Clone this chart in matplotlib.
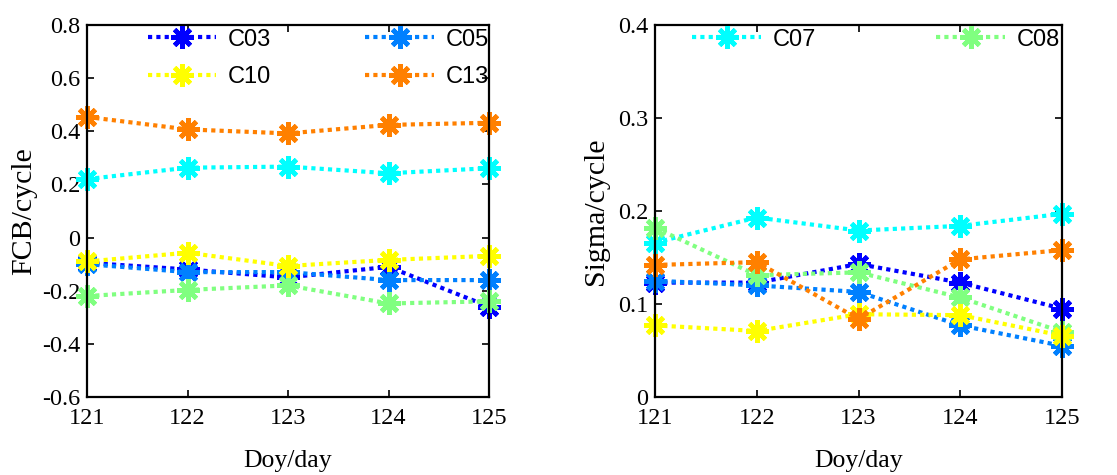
import matplotlib
matplotlib.use('Agg')
import matplotlib.pyplot as plt
import matplotlib.ticker as ticker

# 観測日
doy = [121, 122, 123, 124, 125]

# FCB (cycle)
fcb_c03 = [-0.095, -0.12, -0.15, -0.11, -0.26]
fcb_c05 = [-0.10, -0.13, -0.13, -0.16, -0.16]
fcb_c07 = [0.22, 0.263, 0.267, 0.242, 0.261]
fcb_c08 = [-0.22, -0.197, -0.18, -0.248, -0.24]
fcb_c10 = [-0.09, -0.057, -0.107, -0.084, -0.069]
fcb_c13 = [0.454, 0.407, 0.392, 0.424, 0.432]

# Sigma (cycle)
sig_c03 = [0.123, 0.123, 0.143, 0.123, 0.095]
sig_c05 = [0.125, 0.120, 0.113, 0.077, 0.055]
sig_c07 = [0.166, 0.193, 0.179, 0.184, 0.197]
sig_c08 = [0.182, 0.131, 0.134, 0.107, 0.070]
sig_c10 = [0.077, 0.071, 0.089, 0.088, 0.066]
sig_c13 = [0.142, 0.145, 0.084, 0.148, 0.158]

sats = ['C03', 'C05', 'C07', 'C08', 'C10', 'C13']
# jet(8) の先頭6色
colors = ['#0000ff', '#0080ff', '#00ffff', '#80ff80', '#ffff00', '#ff8000']

plt.rcParams['font.family'] = ['Liberation Serif', 'DejaVu Serif']
plt.rcParams['axes.unicode_minus'] = False

fig = plt.figure(figsize=(11.17, 4.75), dpi=100)
ax1 = fig.add_axes([0.0779, 0.1642, 0.3599, 0.7832])
ax2 = fig.add_axes([0.5864, 0.1642, 0.3644, 0.7832])

fcb = [fcb_c03, fcb_c05, fcb_c07, fcb_c08, fcb_c10, fcb_c13]
sig = [sig_c03, sig_c05, sig_c07, sig_c08, sig_c10, sig_c13]

lines = {}
for ax, data in zip([ax1, ax2], [fcb, sig]):
    for name, vals, color in zip(sats, data, colors):
        ln, = ax.plot(
            doy, vals,
            color=color,
            linestyle=(0, (1, 1)),
            linewidth=3,
            dash_capstyle='butt',
            marker=(8, 2, 0),
            markersize=16,
            markeredgewidth=3.4,
            markeredgecolor=color,
            clip_on=False,
            label=name,
        )
        if ax is ax1:
            lines[name] = ln

# 軸の体裁
for ax in [ax1, ax2]:
    ax.set_xlim(121, 125)
    ax.set_xticks(doy)
    ax.tick_params(
        direction='in', length=5, width=1.2,
        top=True, right=True, labelsize=17.5,
    )
    ax.tick_params(axis='x', pad=8)
    ax.tick_params(axis='y', pad=5)
    for sp in ax.spines.values():
        sp.set_linewidth(1.6)
    ax.yaxis.set_major_formatter(ticker.FuncFormatter(lambda v, p: '%g' % round(v, 2)))
    ax.set_xlabel('Doy/day', fontsize=18.5, labelpad=15)

ax1.set_ylim(-0.6, 0.8)
ax1.set_yticks([-0.6, -0.4, -0.2, 0, 0.2, 0.4, 0.6, 0.8])
ax1.set_ylabel('FCB/cycle', fontsize=21.5, labelpad=3)

ax2.set_ylim(0, 0.4)
ax2.set_yticks([0, 0.1, 0.2, 0.3, 0.4])
ax2.set_ylabel('Sigma/cycle', fontsize=21.5, labelpad=6)

legend_font = {'family': 'Liberation Sans', 'size': 17}

ax1.legend(
    [lines[k] for k in ['C03', 'C10', 'C05', 'C13']],
    ['C03', 'C10', 'C05', 'C13'],
    ncol=2, frameon=False,
    loc='upper right', bbox_to_anchor=(1.0, 0.99),
    borderaxespad=0, borderpad=0,
    handlelength=2.9, handletextpad=0.5,
    columnspacing=4.0, labelspacing=0.64,
    prop=legend_font,
)
ax2.legend(
    [lines[k] for k in ['C07', 'C08']],
    ['C07', 'C08'],
    ncol=2, frameon=False,
    loc='upper right', bbox_to_anchor=(0.995, 0.99),
    borderaxespad=0, borderpad=0,
    handlelength=2.9, handletextpad=0.5,
    columnspacing=5.1,
    prop=legend_font,
)

fig.savefig('out.png', dpi=100)
